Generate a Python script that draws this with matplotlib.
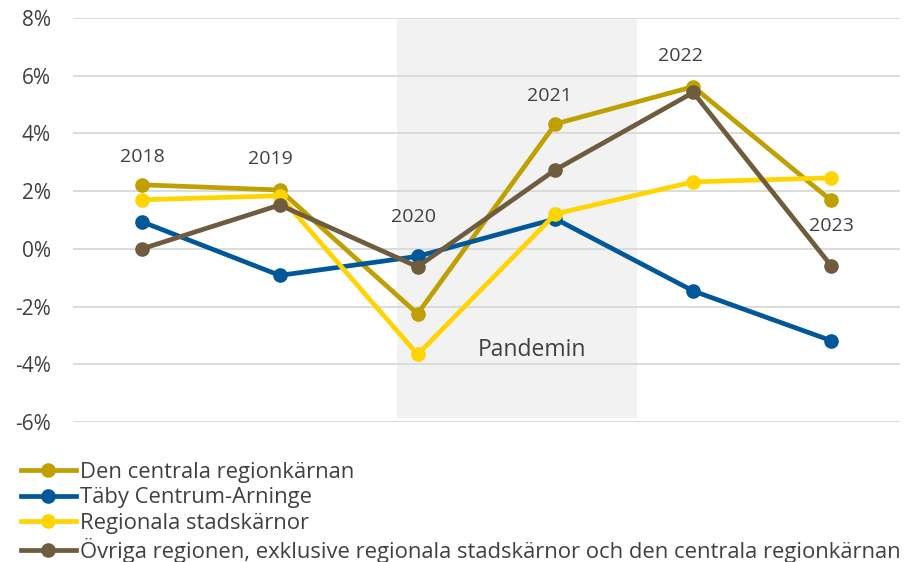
import matplotlib.pyplot as plt

years = ["2018", "2019", "2020", "2021", "2022", "2023"]

# percent change per year
centrala = [2.22, 2.04, -2.25, 4.33, 5.62, 1.68]
taby = [0.94, -0.92, -0.26, 1.04, -1.46, -3.18]
regionala = [1.70, 1.84, -3.66, 1.21, 2.32, 2.46]
ovriga = [0.0, 1.52, -0.62, 2.74, 5.42, -0.58]

series_names = [
    "Den centrala regionkärnan",
    "Täby Centrum-Arninge",
    "Regionala stadskärnor",
    "Övriga regionen, exklusive regionala stadskärnor och den centrala regionkärnan",
]
colors = ["#BFA000", "#00579A", "#FFD400", "#6F5C3E"]

# year label positions (x index, y value)
label_pos = [(0, 3.2), (0.93, 3.1), (1.97, 1.1), (2.96, 5.3), (3.91, 6.7), (5.0, 0.8)]

plt.rcParams["font.family"] = ["Open Sans", "DejaVu Sans"]
text_col = "#404040"

fig = plt.figure(figsize=(9.05, 5.62), dpi=100)
ax = fig.add_axes([73 / 905, 1 - 422 / 562, 827 / 905, 404 / 562])

x = list(range(len(years)))

# pandemic shading
ax.fill_between([1.853, 3.59], -5.86, 8, color="#F2F2F2", zorder=0, lw=0)
ax.text(2.83, -3.5, "Pandemin", ha="center", va="center", fontsize=16.5, color=text_col)

for v in range(-6, 10, 2):
    ax.axhline(v, color="#D9D9D9", lw=1.3, zorder=1)

for vals, c, name in zip([centrala, taby, regionala, ovriga], colors, series_names):
    ax.plot(x, vals, color=c, lw=3.4, marker="o", markersize=9.5, label=name, zorder=3)

for yr, (px, py) in zip(years, label_pos):
    ax.text(px, py, yr, ha="center", va="center", fontsize=14, color=text_col)

ax.set_xlim(-0.5, 5.5)
ax.set_ylim(-6, 8)
ax.set_xticks([])
ax.set_yticks(range(-6, 10, 2))
ax.set_yticklabels([f"{v}%" for v in range(-6, 10, 2)], fontsize=15, color=text_col)
ax.tick_params(axis="y", length=0, pad=16)
for s in ax.spines.values():
    s.set_visible(False)

leg = fig.legend(loc="upper left", bbox_to_anchor=(21 / 905, 1 - 462 / 562),
                 frameon=False, fontsize=15.8, handlelength=2.5, handletextpad=0.2,
                 labelspacing=0.2, borderpad=0, borderaxespad=0)
for t in leg.get_texts():
    t.set_color(text_col)

fig.savefig("out.png", dpi=100)
